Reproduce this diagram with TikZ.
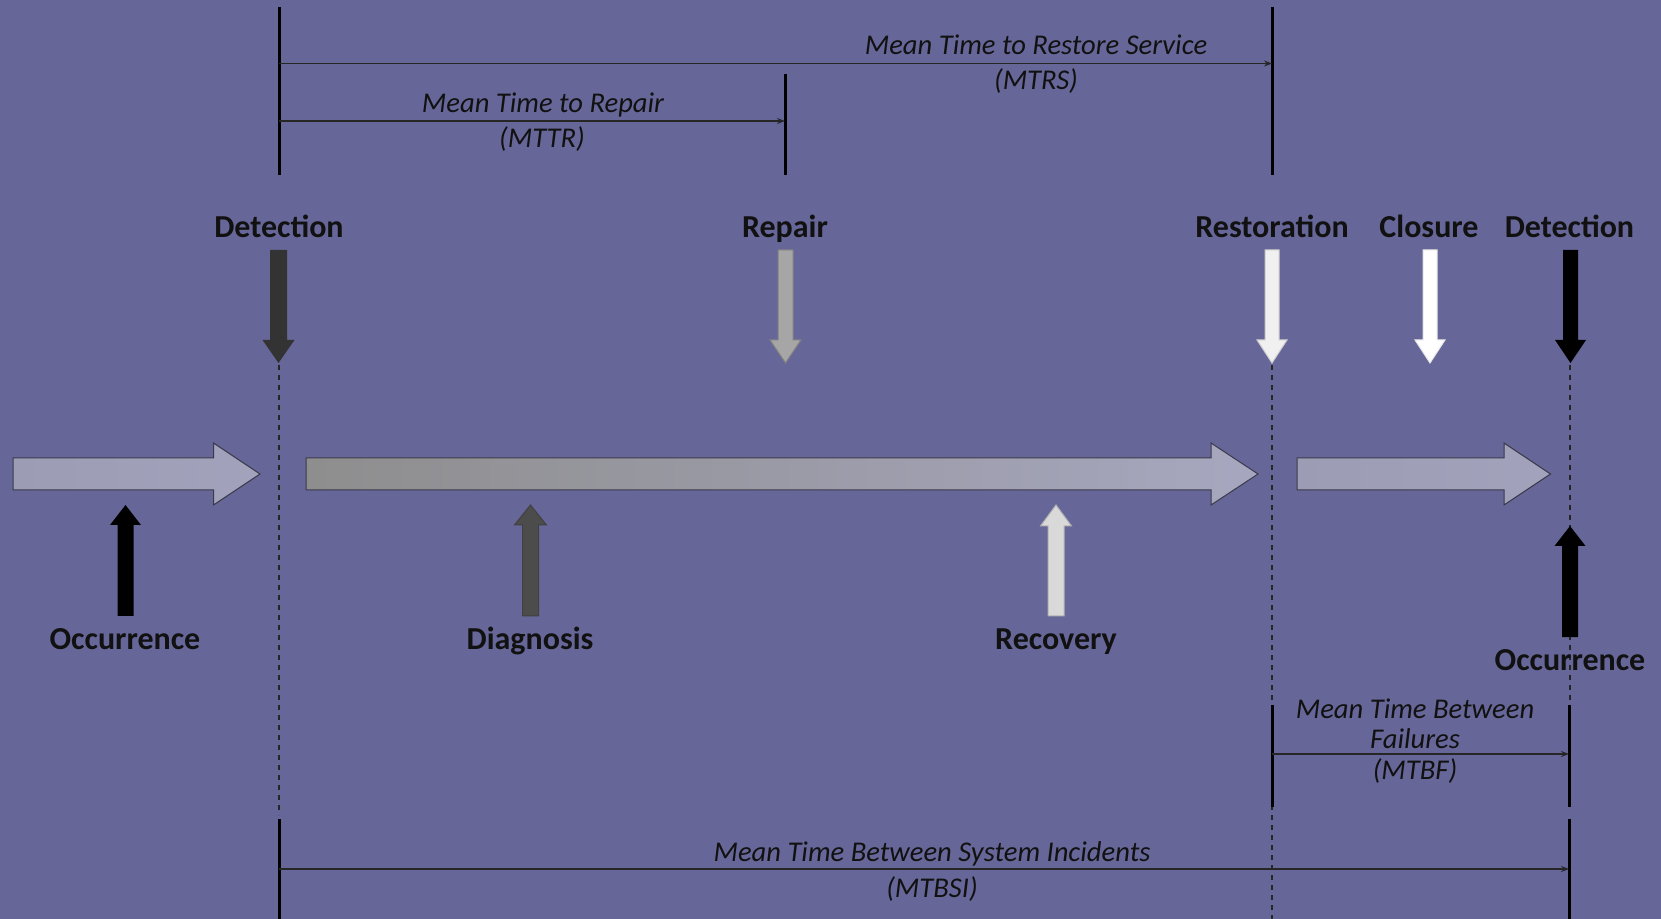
\documentclass[tikz,border=0pt]{standalone}
\usepackage{fontspec}
\setmainfont{Carlito}
\usetikzlibrary{arrows.meta}
\definecolor{bg}{HTML}{666699}
\definecolor{txt}{HTML}{111111}
\definecolor{hlight}{HTML}{A2A2BC}
\definecolor{hlightL}{HTML}{9C9CB4}
\definecolor{hgray}{HTML}{8E8E8E}
\definecolor{hedge}{HTML}{3A3A4A}
\newcommand{\blkdown}[6]{(#1-#5,#2) -- (#1+#5,#2) -- (#1+#5,#3) -- (#1+#6,#3) -- (#1,#4) -- (#1-#6,#3) -- (#1-#5,#3) -- cycle}
\newcommand{\blkright}[6]{(#1,#4-#5) -- (#2,#4-#5) -- (#2,#4-#6) -- (#3,#4) -- (#2,#4+#6) -- (#2,#4+#5) -- (#1,#4+#5) -- cycle}
\begin{document}
\begin{tikzpicture}[x=0.5pt,y=-0.5pt,
  lbl/.style={font=\fontsize{16}{19}\selectfont\bfseries, text=txt, inner sep=0pt, anchor=base},
  itl/.style={font=\fontsize{14.3}{17}\selectfont\itshape, text=txt, inner sep=0pt, anchor=base},
  bar/.style={line width=1.5pt, draw=black},
  dimline/.style={line width=0.6pt, draw=black!85, -{Stealth[length=4pt,width=3pt]}},
  guide/.style={line width=0.6pt, draw=black!85, dash pattern=on 2.5pt off 2.5pt},
  blk/.style={line width=0.5pt},
]
\useasboundingbox (0,0) rectangle (1661,919);
\fill[bg] (0,0) rectangle (1661,919);

% guide coordinates
\coordinate (g1a) at (279,365);  \coordinate (g1b) at (279,815);
\coordinate (g2a) at (1272,365); \coordinate (g2b) at (1272,919);
\coordinate (g3a) at (1570,365); \coordinate (g3b) at (1570,700);
\draw[guide] (g1a) -- (g1b);
\draw[guide] (g2a) -- (g2b);
\draw[guide] (g3a) -- (g3b);

% horizontal block arrows
\draw[blk, draw=hedge, left color=hlightL, right color=hlight] \blkright{13}{213.5}{260}{474}{16}{31};
\draw[blk, draw=hedge, left color=hgray, right color=hlight!95!white] \blkright{306}{1211}{1258}{474}{16}{31};
\draw[blk, draw=hedge, left color=hlightL, right color=hlight] \blkright{1297}{1504}{1550.5}{474}{16}{31};

% down arrows
\fill[fill=black!80] \blkdown{278.5}{250}{340}{363}{8.5}{16};
\filldraw[blk, fill=black!35, draw=black!50] \blkdown{785.5}{250}{340}{363}{7.5}{15.5};
\filldraw[blk, fill=black!6, draw=black!20] \blkdown{1272}{250}{340}{363}{7}{15};
\filldraw[blk, fill=white, draw=black!10] \blkdown{1430}{250}{340}{363}{7}{15};
\fill[fill=black] \blkdown{1570.5}{250}{340}{363}{7.5}{15.5};

% up arrows
\fill[fill=black] \blkdown{125.5}{616}{525}{505}{8}{15.5};
\filldraw[blk, fill=black!70, draw=black!75] \blkdown{530.5}{616}{525}{505}{8}{16};
\filldraw[blk, fill=black!15, draw=black!30] \blkdown{1056}{616}{526}{505}{8}{15.5};
\fill[fill=black] \blkdown{1570}{637}{546}{526}{8}{15.5};

% labels
\node[lbl] (det1) at (279,238) {Detection};
\node[lbl] (rep) at (785,238) {Repair};
\node[lbl] (rest) at (1272,238) {Restoration};
\node[lbl] (clos) at (1429,238) {Closure};
\node[lbl] (det2) at (1569.5,238) {Detection};
\node[lbl] (occ1) at (125,649) {Occurrence};
\node[lbl] (diag) at (530,649) {Diagnosis};
\node[lbl] (reco) at (1056,649) {Recovery};
\node[lbl] (occ2) at (1570,670) {Occurrence};

% vertical bars
\coordinate (b1t) at (279,7);    \coordinate (b1b) at (279,175);
\coordinate (b2t) at (785,74);   \coordinate (b2b) at (785,175);
\coordinate (b3t) at (1272,7);   \coordinate (b3b) at (1272,175);
\coordinate (b4t) at (1272,705); \coordinate (b4b) at (1272,807);
\coordinate (b5t) at (1569,705); \coordinate (b5b) at (1569,807);
\coordinate (b6t) at (279,819);  \coordinate (b6b) at (279,919);
\coordinate (b7t) at (1569,819); \coordinate (b7b) at (1569,919);
\foreach \t/\b in {b1t/b1b,b2t/b2b,b3t/b3b,b4t/b4b,b5t/b5b,b6t/b6b,b7t/b7b}
  \draw[bar] (\t) -- (\b);

% dimension arrows
\coordinate (mtrsL) at (279,63.5);  \coordinate (mtrsR) at (1272,63.5);
\coordinate (mttrL) at (279,121);   \coordinate (mttrR) at (785,121);
\coordinate (mtbfL) at (1272,754);  \coordinate (mtbfR) at (1569,754);
\coordinate (mtbsiL) at (279,869);  \coordinate (mtbsiR) at (1569,869);
\draw[dimline] (mtrsL) -- (mtrsR);
\draw[dimline] (mttrL) -- (mttrR);
\draw[dimline] (mtbfL) -- (mtbfR);
\draw[dimline] (mtbsiL) -- (mtbsiR);

% dimension texts
\node[itl] (mtrs1) at (1036,55) {Mean Time to Restore Service};
\node[itl] (mtrs2) at (1036,90) {(MTRS)};
\node[itl] (mttr1) at (543,113) {Mean Time to Repair};
\node[itl] (mttr2) at (542,148) {(MTTR)};
\node[itl] (mtbf1) at (1415,718.5) {Mean Time Between};
\node[itl] (mtbf2) at (1415,748) {Failures};
\node[itl] (mtbf3) at (1415,779.5) {(MTBF)};
\node[itl] (mtbsi1) at (932,861.5) {Mean Time Between System Incidents};
\node[itl] (mtbsi2) at (932,897.5) {(MTBSI)};
\end{tikzpicture}
\end{document}
